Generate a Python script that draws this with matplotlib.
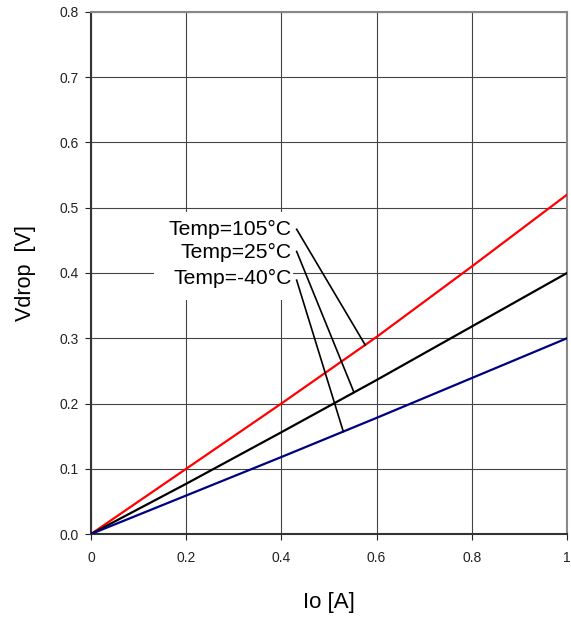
import matplotlib.pyplot as plt
import numpy as np

plt.rcParams['font.family'] = ['Liberation Sans', 'DejaVu Sans']

# output current vs drop voltage at three temperatures
io = [0.0, 0.2, 0.4, 0.6, 0.8, 1.0]
vdrop_105 = [0.0, 0.100, 0.200, 0.302, 0.410, 0.520]
vdrop_25 = [0.0, 0.077, 0.156, 0.236, 0.318, 0.400]
vdrop_m40 = [0.0, 0.059, 0.118, 0.178, 0.239, 0.300]
labels = ['Temp=105°C', 'Temp=25°C', 'Temp=-40°C']
COLORS = ['#ff0000', '#000000', '#000080']

# label anchor (text end) and where each leader line meets its curve
label_pos = [(0.421, 0.466), (0.421, 0.432), (0.421, 0.392)]
leader_start = [(0.432, 0.467), (0.432, 0.433), (0.432, 0.389)]
leader_x = [0.576, 0.5525, 0.530]

fig = plt.figure(figsize=(5.71, 6.17), dpi=100)
ax = fig.add_axes([0.1594, 0.1345, 0.8336, 0.8461])

series = [vdrop_105, vdrop_25, vdrop_m40]
for vals, c in zip(series, COLORS):
    ax.plot(io, vals, color=c, linewidth=1.6, zorder=3)

ax.set_xlim(0, 1)
ax.set_ylim(0, 0.8)
ax.set_xticks(np.arange(0, 1.01, 0.2))
ax.set_xticklabels(['0', '0.2', '0.4', '0.6', '0.8', '1'])
ax.set_yticks(np.arange(0, 0.81, 0.1))
ax.set_yticklabels(['%.1f' % v for v in np.arange(0, 0.81, 0.1)])
ax.tick_params(direction='out', length=4, width=0.8, labelsize=10, colors='#222222')
ax.tick_params(axis='x', pad=8)
ax.tick_params(axis='y', pad=5)
ax.grid(True, color='#444444', linewidth=0.8, zorder=1)
ax.set_axisbelow(True)
for side in ['top', 'right']:
    ax.spines[side].set_color('#888888')
    ax.spines[side].set_linewidth(1.5)
for side in ['left', 'bottom']:
    ax.spines[side].set_color('#333333')
    ax.spines[side].set_linewidth(1.5)

# white box behind the labels hides the grid there
ax.add_patch(plt.Rectangle((0.132, 0.3586), 0.292, 0.1354, facecolor='white',
                           edgecolor='none', zorder=2))
for i, lab in enumerate(labels):
    ax.text(label_pos[i][0], label_pos[i][1], lab, ha='right', va='center',
            fontsize=15.2, zorder=4)
    x1 = leader_x[i]
    y1 = np.interp(x1, io, series[i])
    ax.plot([leader_start[i][0], x1], [leader_start[i][1], y1], color='black',
            linewidth=1.2, zorder=4)

ax.set_xlabel('Io [A]', fontsize=16, labelpad=20)
ax.set_ylabel('Vdrop  [V]', fontsize=15.5, labelpad=17)

fig.savefig('out.png', dpi=100)
